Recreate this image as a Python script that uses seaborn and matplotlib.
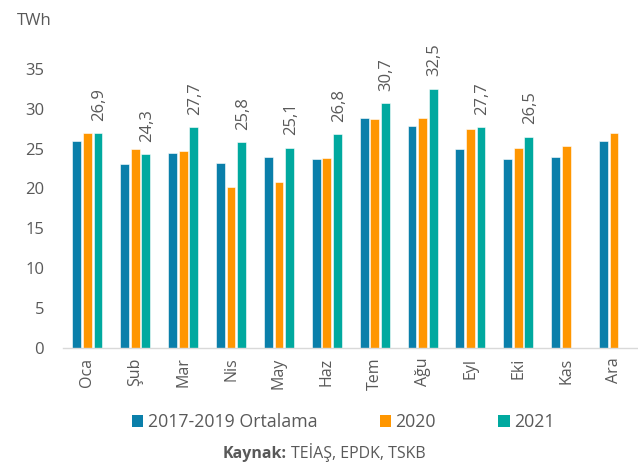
import pandas as pd
import seaborn as sns
import matplotlib.pyplot as plt
from matplotlib.patches import Patch

# Veri
aylar = ['Oca', 'Şub', 'Mar', 'Nis', 'May', 'Haz', 'Tem', 'Ağu', 'Eyl', 'Eki', 'Kas', 'Ara']
ort_2017_2019 = [25.9, 23.1, 24.5, 23.2, 24.0, 23.7, 28.8, 27.8, 24.9, 23.7, 24.0, 25.9]
yil_2020 = [26.9, 24.9, 24.7, 20.2, 20.8, 23.8, 28.7, 28.8, 27.4, 25.1, 25.3, 26.9]
yil_2021 = [26.9, 24.3, 27.7, 25.8, 25.1, 26.8, 30.7, 32.5, 27.7, 26.5, None, None]
seriler = ['2017-2019 Ortalama', '2020', '2021']
renkler = ['#0A7FAA', '#FF9600', '#00A99F']

df = pd.DataFrame({
    'ay': aylar * 3,
    'seri': [seriler[0]] * 12 + [seriler[1]] * 12 + [seriler[2]] * 12,
    'deger': ort_2017_2019 + yil_2020 + yil_2021,
}).dropna()

sns.set_theme(style='white')
plt.rcParams['font.family'] = ['Open Sans', 'DejaVu Sans']
gri = '#595959'

fig = plt.figure(figsize=(6.38, 4.65), dpi=100)
ax = fig.add_axes([0.0995, 0.252, 0.9005, 0.6])

sns.barplot(data=df, x='ay', y='deger', hue='seri', order=aylar, hue_order=seriler,
            palette=renkler, width=0.66, gap=0.16, saturation=1, legend=False,
            edgecolor='white', linewidth=0.4, ax=ax)

ax.set_ylim(0, 35)
ax.set_xlim(-0.5, 11.5)
ax.set_yticks(range(0, 36, 5))
ax.set_xlabel('')
ax.set_ylabel('')
ax.tick_params(axis='y', labelsize=12, colors=gri, length=0, pad=14)
ax.tick_params(axis='x', labelsize=11.5, colors=gri, length=0, pad=7, labelrotation=90)
for s in ['top', 'right', 'left']:
    ax.spines[s].set_visible(False)
ax.spines['bottom'].set_color('#D9D9D9')
ax.spines['bottom'].set_linewidth(1)

# 2021 etiketleri
dodge = 0.22
for i, v in enumerate(yil_2021):
    if v is None:
        continue
    ax.annotate(f'{v:.1f}'.replace('.', ','), (i + dodge, v), xytext=(1, 9),
                textcoords='offset points', rotation=90, ha='center', va='bottom',
                fontsize=12, color=gri, annotation_clip=False)

fig.text(0.027, 0.955, 'TWh', fontsize=12, color=gri, va='center')

handles = [Patch(facecolor=c, edgecolor='none') for c in renkler]
fig.legend(handles, seriler, loc='center', bbox_to_anchor=(0.538, 0.0925), ncol=3,
           frameon=False, fontsize=12.8, labelcolor=gri, handlelength=0.65,
           handleheight=0.65, handletextpad=0.25, columnspacing=3.5,
           borderpad=0, borderaxespad=0)

# Kaynak satiri: kalin + normal
r = fig.canvas.get_renderer()
t1 = fig.text(0.3495, 0.016, 'Kaynak:', fontsize=11.5, fontweight='bold', color=gri,
              va='baseline')
w1 = t1.get_window_extent(r).width / fig.bbox.width
t2 = fig.text(0.3495 + w1 + 0.007, 0.016, 'TEİAŞ, EPDK, TSKB', fontsize=11.5, color=gri,
              va='baseline')

fig.savefig('out.png', dpi=100)
